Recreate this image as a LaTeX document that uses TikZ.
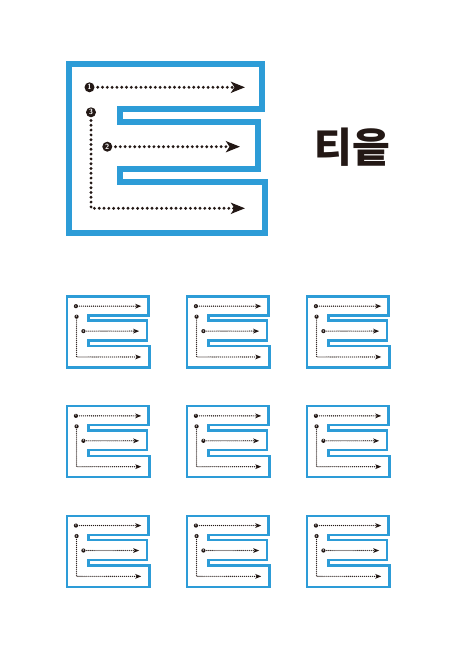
\documentclass[tikz,border=0pt]{standalone}
\usepackage{fontspec}
\newfontfamily\krfont{Noto Sans CJK KR}
\usetikzlibrary{arrows.meta}
\definecolor{eblue}{RGB}{45,156,215}
\definecolor{ink}{RGB}{35,24,21}
\tikzset{
  eline/.style={draw=eblue, line join=miter},
  num/.style={circle, fill=ink, text=white, inner sep=0pt, minimum size=10pt,
    font=\sffamily\bfseries\fontsize{7.5}{7.5}\selectfont},
  dotline/.style={draw=ink, line cap=round},
}
\newcommand{\drawE}[3]{%
  \pgfmathsetmacro\eLW{#2*6}%
  \pgfmathsetmacro\dLW{#2*3.2}%
  \pgfmathsetmacro\dOff{#2*4.8}%
  \pgfmathsetmacro\aLen{#2*14}%
  \pgfmathsetmacro\aWid{#2*11}%
  \pgfmathsetmacro\aIns{#2*3.5}%
  \pgfmathsetmacro\sGap{#2*3}%
  \begin{scope}[shift={#1}, scale=#2, transform shape]
    \draw[eline, line width=\eLW pt] (0,0) -- (193.5,0) -- (193.5,-45) -- (51,-45)
      -- (51,-57.5) -- (189.5,-57.5) -- (189.5,-104.5) -- (51,-104.5)
      -- (51,-118) -- (196.5,-118) -- (196.5,-169) -- (0,-169) -- cycle;
    \node[num] (#3n1) at (20.8,-23) {1};
    \node[num] (#3n3) at (22.3,-48) {3};
    \node[num] (#3n2) at (38.6,-82.4) {2};
    \coordinate (#3t1) at (176.3,-23);
    \coordinate (#3t2) at (171.3,-82.4);
    \coordinate (#3t3) at (176.3,-144);
    \begin{scope}[dotline, line width=\dLW pt, dash pattern=on 0pt off \dOff pt,
        -{Stealth[length=\aLen pt, width=\aWid pt, inset=\aIns pt]}]
      \draw[shorten <=\sGap pt] (#3n1) -- (#3t1);
      \draw[shorten <=\sGap pt] (#3n2) -- (#3t2);
      \draw[shorten <=\sGap pt] (#3n3) |- (#3t3);
    \end{scope}
  \end{scope}}
\begin{document}
\begin{tikzpicture}[x=1pt, y=1pt]
  \useasboundingbox[fill=white] (0,0) rectangle (460,-650);
  \drawE{(68.7,-64.3)}{1}{big}
  \node[font=\krfont\bfseries\fontsize{41}{41}\selectfont, text=ink] (title) at (352.5,-147) {티읕};
  \foreach \r in {0,1,2}{
    \foreach \c in {0,1,2}{
      \pgfmathsetmacro\px{67.2+120*\c}
      \pgfmathsetmacro\py{-(296.5+109.7*\r)}
      \drawE{(\px,\py)}{0.42}{s\r\c}
    }
  }
\end{tikzpicture}
\end{document}
